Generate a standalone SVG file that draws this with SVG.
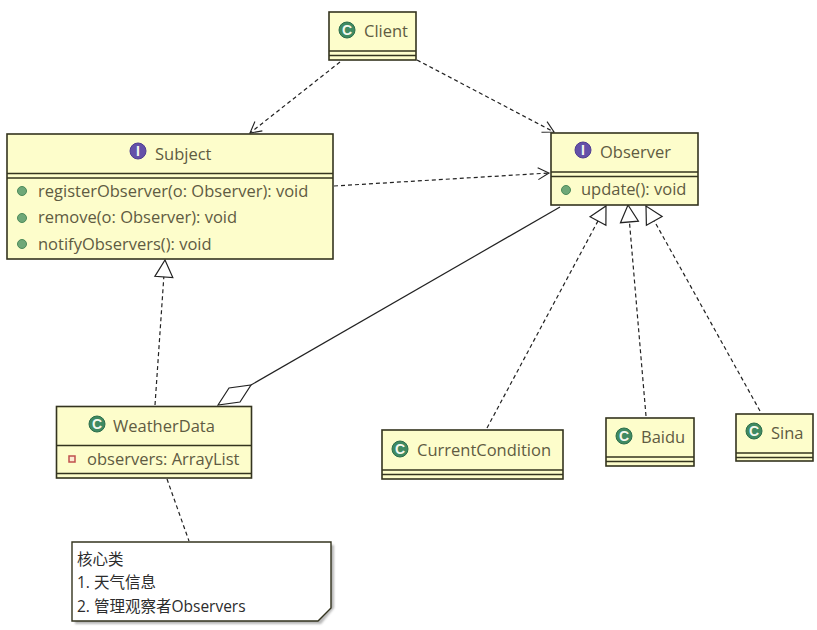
<svg xmlns="http://www.w3.org/2000/svg" width="817" height="630" viewBox="0 0 817 630">
  <style>
    .box { fill: #fdfdcb; stroke: #34341f; stroke-width: 1.6; }
    .rule { stroke: #34341f; stroke-width: 1.4; fill: none; }
    .label { font-family: "Open Sans", "Noto Sans", sans-serif; font-size: 16.5px; fill: #5f5b42; }
    .note-text { font-family: "Open Sans", "Noto Sans CJK SC", sans-serif; font-size: 15.5px; fill: #2c2c2c; }
    .glyph { font-family: "Liberation Sans", sans-serif; font-size: 14px; font-weight: bold; fill: #f4f8ee; text-anchor: middle; }
    .class-icon { fill: #3f8a62; stroke: #2c6e4b; }
    .iface-icon { fill: #6450a8; stroke: #4f3d92; }
    .op { fill: #6fa878; stroke: #4c8a5a; }
    .dep { fill: none; stroke: #222; stroke-width: 1.2; stroke-dasharray: 4 3; }
    .solid { fill: none; stroke: #222; stroke-width: 1.2; }
  </style>
  <defs>
    <marker id="open" markerUnits="userSpaceOnUse" markerWidth="16" markerHeight="16" refX="13" refY="8" orient="auto">
      <path d="M2 2 L13 8 L2 14" fill="none" stroke="#222" stroke-width="1.1"/>
    </marker>
    <marker id="hollow" markerUnits="userSpaceOnUse" markerWidth="22" markerHeight="22" refX="19" refY="11" orient="auto">
      <path d="M2 2 L19 11 L2 20 Z" fill="#fff" stroke="#222" stroke-width="1.2"/>
    </marker>
    <filter id="shade" x="-5%" y="-5%" width="110%" height="115%">
      <feGaussianBlur stdDeviation="1.2"/>
    </filter>
  </defs>

  <g id="connectors">
    <path class="dep" d="M340 62 L250 133" marker-end="url(#open)"/>
    <path class="dep" d="M417 60 L554 132" marker-end="url(#open)"/>
    <path class="dep" d="M334 186 L549 173" marker-end="url(#open)"/>
    <path class="dep" d="M155 405 L165 260" marker-end="url(#hollow)"/>
    <path class="dep" d="M487 428 L606 206" marker-end="url(#hollow)"/>
    <path class="dep" d="M646 416 L628 205" marker-end="url(#hollow)"/>
    <path class="dep" d="M760 411 L646 206" marker-end="url(#hollow)"/>
    <path class="dep" d="M167 479 L189 541"/>
    <path class="solid" d="M560 207 L251 385"/>
    <path class="solid" d="M218 405 L229 388 L251 385 L240 402 Z" fill="#fff"/>
  </g>

  <g id="client">
    <rect class="box" x="329" y="12" width="87" height="48"/>
    <path class="rule" d="M329 51 H416 M329 55.500 H416"/>
    <circle class="class-icon" cx="347" cy="30" r="8"/>
    <text class="glyph" x="347" y="35">C</text>
    <text class="label" x="364" y="37">Client</text>
  </g>

  <g id="subject">
    <rect class="box" x="7" y="134" width="326" height="125"/>
    <path class="rule" d="M7 173.500 H333 M7 178 H333"/>
    <circle class="iface-icon" cx="138" cy="151" r="8"/>
    <text class="glyph" x="138" y="156">I</text>
    <text class="label" x="155" y="160">Subject</text>
    <circle class="op" cx="22" cy="191" r="4.500"/>
    <text class="label" x="38" y="197">registerObserver(o: Observer): void</text>
    <circle class="op" cx="22" cy="218" r="4.500"/>
    <text class="label" x="38" y="223">remove(o: Observer): void</text>
    <circle class="op" cx="22" cy="244" r="4.500"/>
    <text class="label" x="38" y="250">notifyObservers(): void</text>
  </g>

  <g id="observer">
    <rect class="box" x="551" y="133" width="147" height="72"/>
    <path class="rule" d="M551 172 H698 M551 176.500 H698"/>
    <circle class="iface-icon" cx="583" cy="150" r="8"/>
    <text class="glyph" x="583" y="155">I</text>
    <text class="label" x="600" y="158">Observer</text>
    <circle class="op" cx="566" cy="190" r="4.500"/>
    <text class="label" x="581" y="195">update(): void</text>
  </g>

  <g id="weather-data">
    <rect class="box" x="56.500" y="406.500" width="195" height="71.500"/>
    <path class="rule" d="M56.500 445.500 H251.500 M56.500 473.500 H251.500"/>
    <circle class="class-icon" cx="97" cy="424" r="8"/>
    <text class="glyph" x="97" y="429">C</text>
    <text class="label" x="113" y="432">WeatherData</text>
    <rect x="69" y="456" width="6" height="6" fill="#fbe9d0" stroke="#c0504d" stroke-width="1.500"/>
    <text class="label" x="87" y="465">observers: ArrayList</text>
  </g>

  <g id="current-condition">
    <rect class="box" x="382" y="430" width="181" height="49"/>
    <path class="rule" d="M382 470 H563 M382 474.500 H563"/>
    <circle class="class-icon" cx="400" cy="449" r="8"/>
    <text class="glyph" x="400" y="454">C</text>
    <text class="label" x="417" y="456">CurrentCondition</text>
  </g>

  <g id="baidu">
    <rect class="box" x="606" y="418" width="88" height="48"/>
    <path class="rule" d="M606 457 H694 M606 461.500 H694"/>
    <circle class="class-icon" cx="624" cy="436" r="8"/>
    <text class="glyph" x="624" y="441">C</text>
    <text class="label" x="641" y="443">Baidu</text>
  </g>

  <g id="sina">
    <rect class="box" x="736" y="414" width="77" height="47"/>
    <path class="rule" d="M736 453 H813 M736 457.500 H813"/>
    <circle class="class-icon" cx="754" cy="431" r="8"/>
    <text class="glyph" x="754" y="436">C</text>
    <text class="label" x="771" y="439">Sina</text>
  </g>

  <g id="core-note">
    <path d="M75 545 H334 V608 L321 624 H75 Z" fill="#999" opacity="0.7" filter="url(#shade)"/>
    <path d="M72 542 H331 V608 L318 621 H72 Z" fill="#fff" stroke="#34341f" stroke-width="1.4"/>
    <text class="note-text" x="77" y="565">核心类</text>
    <text class="note-text" x="77" y="588">1. 天气信息</text>
    <text class="note-text" x="77" y="612">2. 管理观察者Observers</text>
  </g>
</svg>
